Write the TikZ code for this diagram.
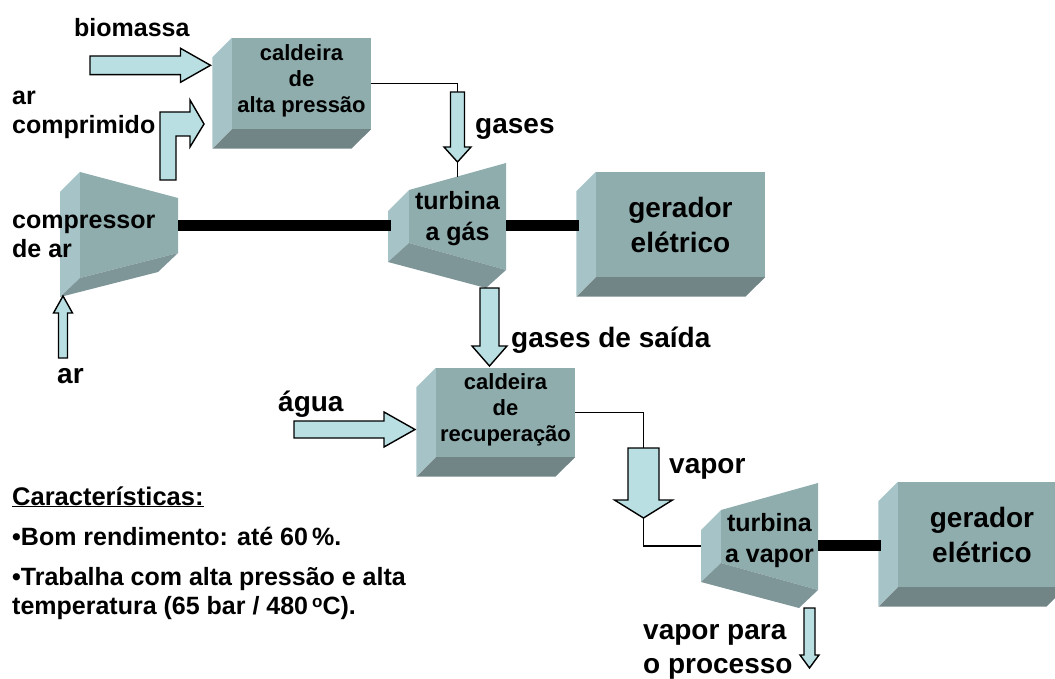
\documentclass[tikz,border=0pt]{standalone}
\usepackage{fontspec}
\setmainfont{Liberation Sans}
\usetikzlibrary{positioning,calc}

\definecolor{facefront}{HTML}{90ADAE}
\definecolor{faceleft}{HTML}{A6C4C7}
\definecolor{facebottom}{HTML}{718587}
\definecolor{taperbottom}{HTML}{7E9698}
\definecolor{flowfill}{HTML}{B9DFE2}

\tikzset{
  flow/.style={draw=black, fill=flowfill, line width=1.4pt, miter limit=10},
  pipe/.style={draw=black, line width=1.2pt},
  shaft/.style={draw=black, line width=11pt},
  boilertext/.style={align=center, inner sep=0pt, font=\bfseries\fontsize{22}{26}\selectfont},
  gentext/.style={align=center, inner sep=0pt, font=\bfseries\fontsize{28}{35}\selectfont},
  turbtext/.style={align=center, inner sep=0pt, font=\bfseries\fontsize{25}{31}\selectfont},
  lbl/.style={inner sep=0pt, font=\bfseries\fontsize{25}{29}\selectfont},
  lblbig/.style={inner sep=0pt, font=\bfseries\fontsize{28}{32}\selectfont}
}

% name, centre x, centre y, width, height, text style, text
\newcommand{\cubeblock}[7]{
  \node[#6, fill=facefront, minimum width=#4pt, minimum height=#5pt] (#1) at (#2,#3) {#7};
  \fill[faceleft] (#1.north west) -- ++(-19.5,19.5) -- ++(0,#5) -- (#1.south west) -- cycle;
  \fill[facebottom] (#1.south west) -- ++(-19.5,19.5) -- ++(#4,0) -- (#1.south east) -- cycle;
}
% name, tail, neck, tip, y, half shaft, half head
\newcommand{\hflow}[7]{
  \coordinate (#1 tail) at (#2,#5);
  \coordinate (#1 tip) at (#4,#5);
  \draw[flow] (#2,{#5-#6}) -- (#3,{#5-#6}) -- (#3,{#5-#7}) -- (#4,#5) -- (#3,{#5+#7}) -- (#3,{#5+#6}) -- (#2,{#5+#6}) -- cycle;
}
% name, x, tail, neck, tip, half shaft, half head
\newcommand{\vflow}[7]{
  \coordinate (#1 tail) at (#2,#3);
  \coordinate (#1 tip) at (#2,#5);
  \draw[flow] ({#2-#6},#3) -- ({#2-#6},#4) -- ({#2-#7},#4) -- (#2,#5) -- ({#2+#7},#4) -- ({#2+#6},#4) -- ({#2+#6},#3) -- cycle;
}

\begin{document}
\begin{tikzpicture}[x=1pt, y=-1pt]
\useasboundingbox (0,0) rectangle (1055,679);
\clip (0,0) rectangle (1055,679);

% Boilers and generators
\cubeblock{boilerhp}{301.5}{83.5}{139}{91}{boilertext}{caldeira\\de\\alta pressão\rule[-9.5pt]{0pt}{9.5pt}}
\cubeblock{boilerrec}{505.5}{412.5}{139}{89}{boilertext}{caldeira\\de\\recuperação\rule[-9.5pt]{0pt}{9.5pt}}
\cubeblock{gengas}{680.5}{224.5}{169}{105}{gentext}{gerador\\elétrico}
\cubeblock{genvap}{982}{534.5}{168}{105}{gentext}{gerador\\elétrico}

% Compressor
\fill[faceleft] (60,192) -- (80,172) -- (80,278) -- (60,297) -- cycle;
\fill[facefront] (80,172) -- (178,198) -- (178,253) -- (80,278) -- cycle;
\fill[taperbottom] (80,278) -- (178,253) -- (158,272) -- (60,297) -- cycle;
\node[minimum width=98pt, minimum height=105pt, inner sep=0pt] (compressor) at (129,225.5) {};

% Gas turbine
\fill[faceleft] (388,211) -- (409,190) -- (409,243) -- (388,262) -- cycle;
\fill[facefront] (409,190) -- (506,163) -- (506,270) -- (409,243) -- cycle;
\fill[taperbottom] (409,243) -- (506,270) -- (486,288) -- (388,262) -- cycle;
\node[turbtext, minimum width=97pt, minimum height=107pt] (turbgas) at (457.5,216.5) {turbina\rule{0pt}{23pt}\\a gás};

% Steam turbine
\fill[faceleft] (701,530) -- (721,510) -- (721,563) -- (701,582) -- cycle;
\fill[facefront] (721,510) -- (818,483) -- (818,590) -- (721,563) -- cycle;
\fill[taperbottom] (721,563) -- (818,590) -- (799,608) -- (701,582) -- cycle;
\node[turbtext, minimum width=97pt, minimum height=107pt] (turbvap) at (769.5,536.5) {turbina\rule{0pt}{26pt}\\a vapor};

% Flow arrows
\hflow{biomass}{90}{180.5}{210.5}{65.3}{9.3}{17}
\draw[flow] (160,180) -- (160,112) -- (190,112) -- (190,100) -- (204,124) -- (190,147) -- (190,136) -- (176,136) -- (176,180) -- cycle;
\vflow{gases}{457.5}{92}{147}{162}{7}{13.5}
\vflow{exhaust}{489.5}{288}{346}{366}{9.5}{17.5}
\vflow{intake}{63}{358}{313}{296}{4.5}{9.5}
\hflow{water}{294}{384}{415}{429.5}{8.5}{17.5}
\vflow{steam}{643.5}{448}{500}{518}{15.5}{29}
\vflow{process}{809.5}{608}{655}{668}{5.5}{9.5}

% Pipes
\draw[pipe] (boilerhp.east) -| (gases tail);
\draw[pipe] (gases tip) -- ([yshift=-14pt]turbgas.north);
\draw[pipe] (boilerrec.east) -| (steam tail);
\draw[pipe] (steam tip) |- ([xshift=-20pt,yshift=-9.5pt]turbvap.west);

% Shafts
\draw[shaft] (compressor.east) -- ([xshift=-18pt,yshift=-9pt]turbgas.west);
\draw[shaft] ([yshift=-9pt]turbgas.east) -- ([xshift=-17pt,yshift=-1pt]gengas.west);
\draw[shaft] ([yshift=-9pt]turbvap.east) -- ([xshift=-17pt,yshift=-11pt]genvap.west);

% Labels
\node[lbl, anchor=base west] (lblbiomass) at (74,37) {biomassa};
\node[lbl, anchor=west, align=left] (lblcompair) at (12,115) {ar\\comprimido};
\node[lbl, anchor=west, align=left] (lblcompressor) at (12,236) {compressor\\de ar};
\node[lblbig, anchor=base west] (lblintake) at (57,383) {ar};
\node[lblbig, anchor=base west] (lblgases) at (475,134) {gases};
\node[lblbig, anchor=base west] (lblexhaust) at (511,347) {gases de saída};
\node[lblbig, anchor=base west] (lblwater) at (278,411) {água};
\node[lblbig, anchor=base west] (lblsteam) at (669,473) {vapor};
\node[lblbig, anchor=west, align=left] (lblprocess) at (643,652) {vapor para\\[1.5pt]o processo};

% Characteristics
\node[lbl, anchor=base west] (lblhead) at (12,505) {\fontsize{25.5}{29}\selectfont\underline{Características:}};
\node[lbl, anchor=base west] (lblfirst) at (12,545) {•Bom rendimento: até 60\,\%.};
\node[lbl, anchor=west, align=left] (lblsecond) at (12,593.5) {•Trabalha com alta pressão e alta\\temperatura (65 bar / 480\hspace{4pt}\raisebox{7pt}{\fontsize{17}{17}\selectfont o}C).};

\end{tikzpicture}
\end{document}
